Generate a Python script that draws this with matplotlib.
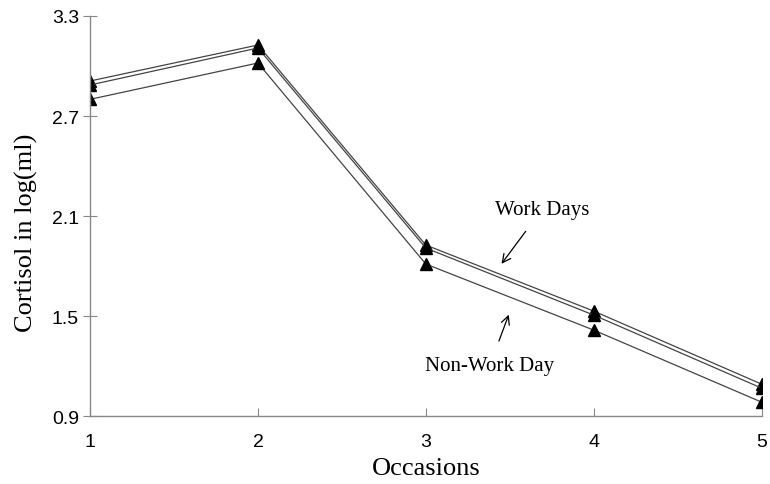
import matplotlib
matplotlib.use("Agg")
import matplotlib.pyplot as plt

occasions = [1, 2, 3, 4, 5]
work_a = [2.91, 3.126, 1.926, 1.53, 1.092]
work_b = [2.886, 3.108, 1.908, 1.506, 1.068]
non_work = [2.80, 3.018, 1.812, 1.416, 0.984]
y_ticks = [0.9, 1.5, 2.1, 2.7, 3.3]

fig = plt.figure(figsize=(7.7, 4.85), dpi=100)
ax = fig.add_axes([0.117, 0.14, 0.872, 0.825])

for vals in (work_a, work_b, non_work):
    ax.plot(occasions, vals, "-", color="#444444", linewidth=0.9,
            marker="^", markersize=9, markerfacecolor="black", markeredgecolor="black")

ax.set_xlim(1, 5)
ax.set_ylim(0.9, 3.3)
ax.set_xticks(occasions)
ax.set_yticks(y_ticks)
ax.set_yticklabels([f"{t:.1f}" for t in y_ticks], family="Liberation Sans", fontsize=14)
ax.set_xticklabels([str(o) for o in occasions], family="Liberation Sans", fontsize=14)

for side in ("top", "right"):
    ax.spines[side].set_visible(False)
for side in ("left", "bottom"):
    ax.spines[side].set_color("#888888")
    ax.spines[side].set_linewidth(1.0)
ax.tick_params(axis="y", direction="inout", length=10, color="#888888", pad=3)
ax.tick_params(axis="x", direction="in", length=6, color="#888888", pad=12)

ax.set_xlabel("Occasions", family="Liberation Serif", fontsize=19, labelpad=5)
ax.set_ylabel("Cortisol in log(ml)", family="Liberation Serif", fontsize=19)
ax.yaxis.set_label_coords(-0.078, 0.46)

ax.annotate("Work Days", xy=(3.441, 1.80), xytext=(3.694, 2.142),
            family="Liberation Serif", fontsize=15, ha="center", va="center",
            arrowprops=dict(arrowstyle="->", color="black", lw=0.9, shrinkA=9))
ax.annotate("Non-Work Day", xy=(3.5, 1.524), xytext=(3.382, 1.206),
            family="Liberation Serif", fontsize=15, ha="center", va="center",
            arrowprops=dict(arrowstyle="->", color="black", lw=0.9, shrinkA=9))

plt.savefig("out.png", dpi=100)
